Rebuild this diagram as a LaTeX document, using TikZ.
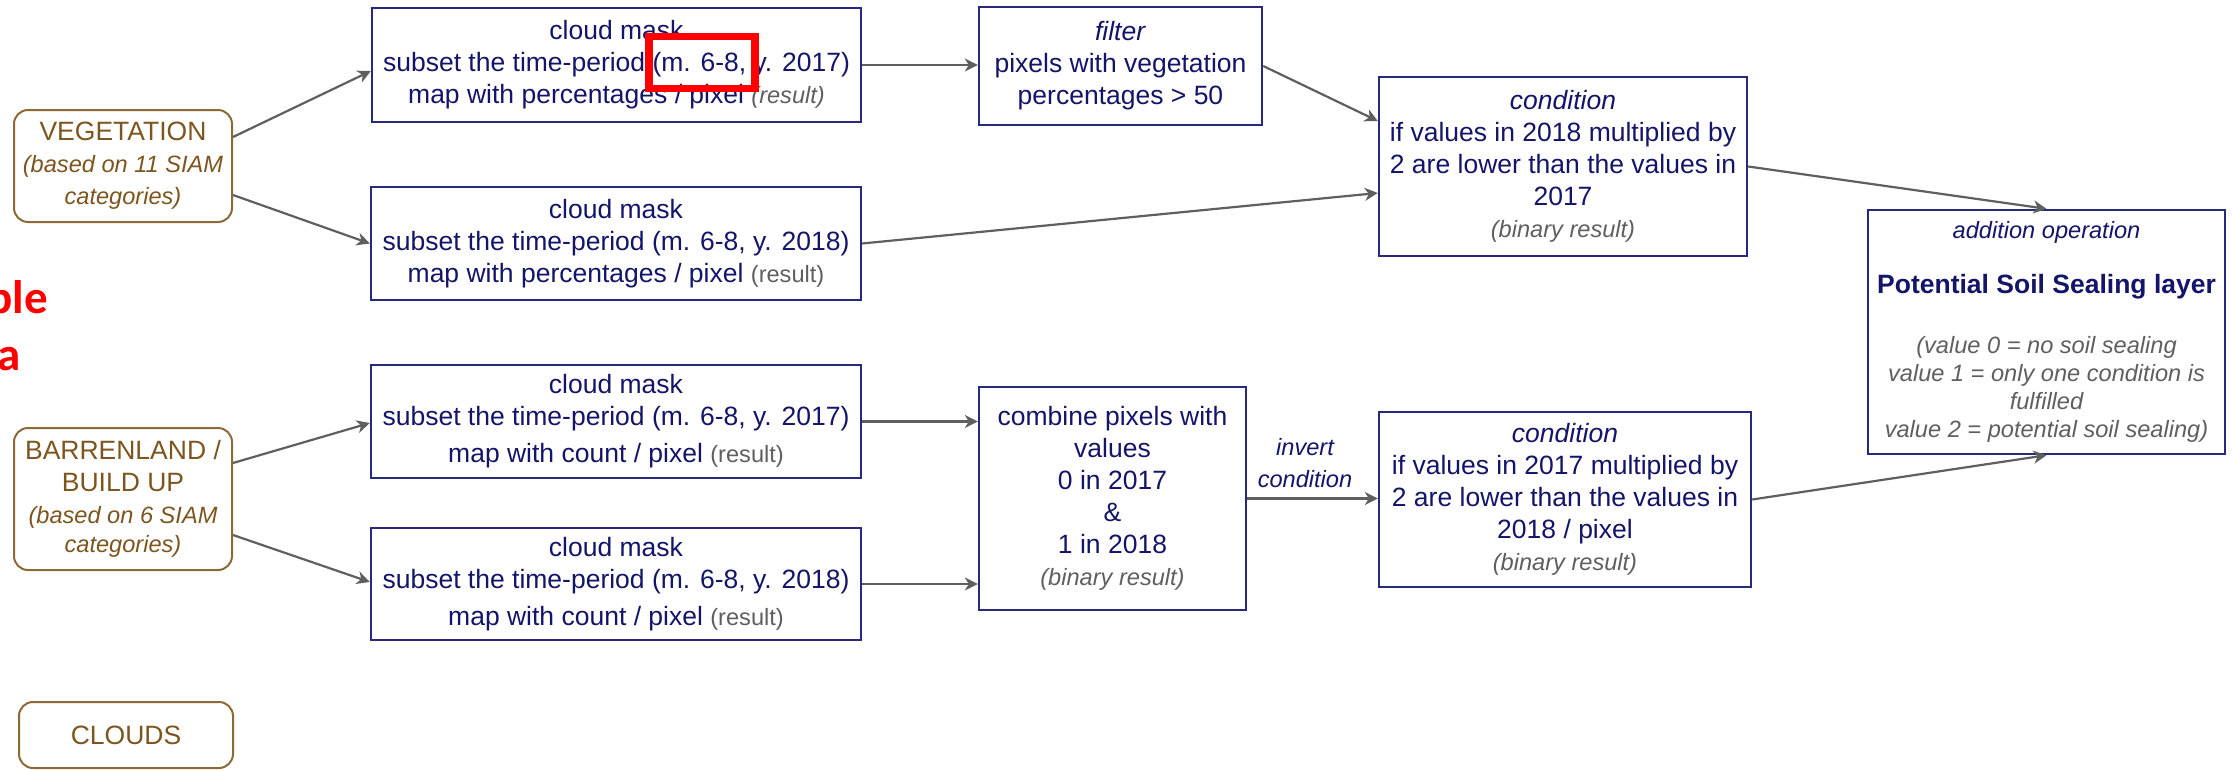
\documentclass[tikz,border=0pt]{standalone}
\usepackage{fontspec}
\setmainfont{Liberation Sans}
\newfontfamily\redfont{Carlito}
\usetikzlibrary{arrows.meta,calc}
\definecolor{navyline}{RGB}{40,40,125}
\definecolor{navytext}{RGB}{20,20,105}
\definecolor{greytext}{RGB}{95,95,95}
\definecolor{brownline}{RGB}{140,105,55}
\definecolor{browntext}{RGB}{125,85,30}
\definecolor{connc}{RGB}{95,95,95}
\newcommand{\bigsz}{\fontsize{26.5pt}{32pt}\selectfont}
\newcommand{\smsz}{\fontsize{23.6pt}{28.5pt}\selectfont}
\newcommand{\res}[1]{{\smsz\color{greytext}#1}}
\newcommand{\gi}[1]{{\smsz\color{greytext}\itshape #1}}
\newcommand{\si}[1]{{\smsz\itshape #1}}
\begin{document}
\begin{tikzpicture}[x=1pt,y=-1pt,
  box/.style={draw=navyline, line width=2.4pt, fill=white, inner sep=0pt, align=center, text=navytext, font=\bigsz},
  src/.style={draw=brownline, line width=2pt, rounded corners=14pt, fill=white, inner sep=0pt, align=center, text=browntext, font=\bigsz},
  conn/.style={draw=connc, line width=2.2pt, -{Stealth[length=13pt,width=13pt,inset=4pt]}},
  lbl/.style={inner sep=0pt, align=center, text=navytext, font=\fontsize{23.6pt}{32pt}\selectfont\itshape},
  redtxt/.style={inner sep=0pt, text=red, font=\fontsize{47pt}{57pt}\redfont\bfseries},
  highlight/.style={draw=red, line width=7.5pt, inner sep=0pt}
]
\useasboundingbox (0,0) rectangle (2239,769);

% sources
\node[src, minimum width=218pt, minimum height=112pt] (veg) at (123,166)
  {VEGETATION\\\si{(based on 11 SIAM}\\\si{categories)}};
\node[src, minimum width=218pt, minimum height=142pt] (barren) at (123,499)
  {BARRENLAND /\\BUILD UP\\\si{(based on 6 SIAM}\\[-3pt]\si{categories)}};
\node[src, minimum width=214pt, minimum height=66pt] (clouds) at (126,735) {CLOUDS};

% cloud mask boxes
\node[box, minimum width=489pt, minimum height=114pt] (A) at (616.5,65)
  {cloud mask\\subset the time-period (m. 6-8, y. 2017)\\map with percentages / pixel \gi{(result)}};
\node[box, minimum width=490pt, minimum height=113pt] (B) at (616,243.5)
  {cloud mask\\subset the time-period (m. 6-8, y. 2018)\\map with percentages / pixel \res{(result)}};
\node[box, minimum width=490pt, minimum height=113pt] (C) at (616,421.5)
  {cloud mask\\subset the time-period (m. 6-8, y. 2017)\\[5pt]map with count / pixel \res{(result)}};
\node[box, minimum width=490pt, minimum height=112pt] (D) at (616,584)
  {cloud mask\\subset the time-period (m. 6-8, y. 2018)\\[5pt]map with count / pixel \res{(result)}};

% processing
\node[box, minimum width=283pt, minimum height=118pt] (filter) at (1120.5,66)
  {\textit{filter}\\pixels with vegetation\\percentages > 50};
\node[box, minimum width=368pt, minimum height=179pt] (cond1) at (1563,166.5)
  {\textit{condition}\\if values in 2018 multiplied by\\2 are lower than the values in\\2017\\\gi{(binary result)}};
\node[box, minimum width=267pt, minimum height=223pt] (combine) at (1112.5,498.5)
  {combine pixels with\\values\\0 in 2017\\\&\\1 in 2018\\\gi{(binary result)}};
\node[box, minimum width=372pt, minimum height=175pt] (cond2) at (1565,499.5)
  {\textit{condition}\\if values in 2017 multiplied by\\2 are lower than the values in\\2018 / pixel\\\gi{(binary result)}};
\node[box, minimum width=357pt, minimum height=244pt, font=\fontsize{23.6pt}{28pt}\selectfont] (add) at (2046.5,332)
  {\textit{addition operation}\\[27pt]{\bigsz\bfseries Potential Soil Sealing layer}\\[32pt]\gi{(value 0 = no soil sealing}\\\gi{value 1 = only one condition is}\\\gi{fulfilled}\\\gi{value 2 = potential soil sealing)}};

\node[lbl] (inv) at (1305,463) {invert\\condition};

% highlight and cut-off red text
\node[highlight, minimum width=106pt, minimum height=52pt] (hl) at (702,62.5) {};
\node[redtxt, anchor=base west] (ble) at (-13,313) {ble};
\node[redtxt, anchor=base west] (dta) at (-3,370) {a};

% connectors
\draw[conn] ($(veg.east)+(0,-29)$) -- ($(A.west)+(0,6)$);
\draw[conn] ($(veg.east)+(0,29)$) -- (B.west);
\draw[conn] ($(barren.east)+(0,-36)$) -- ($(C.west)+(0,1.5)$);
\draw[conn] ($(barren.east)+(0,36)$) -- ($(D.west)+(0,-2)$);
\draw[conn] (A.east) -- (A.east -| filter.west);
\draw[conn] (filter.east) -- ($(cond1.west)+(0,-45.5)$);
\draw[conn] (B.east) -- ($(cond1.west)+(0,26.5)$);
\draw[conn] (C.east) -- (C.east -| combine.west);
\draw[conn] (D.east) -- (D.east -| combine.west);
\draw[conn] (combine.east) -- (combine.east -| cond2.west);
\draw[conn] (cond1.east) -- (add.north);
\draw[conn] (cond2.east) -- (add.south);
\end{tikzpicture}
\end{document}
